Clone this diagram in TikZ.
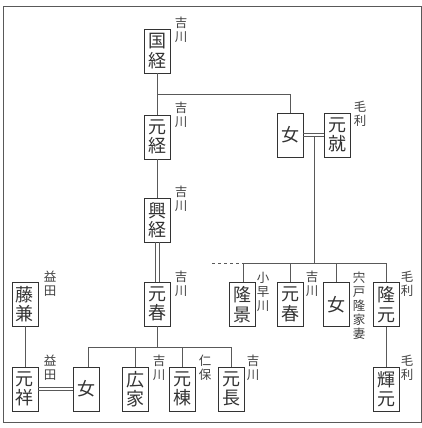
\documentclass[tikz,border=0pt]{standalone}
\usepackage{fontspec}
\setmainfont{Noto Sans CJK JP}
\begin{document}
\begin{tikzpicture}[x=1pt,y=-1pt,
  box/.style={draw=black!80,line width=0.8pt,minimum width=26pt,minimum height=44pt,inner sep=0pt,align=center,text=black!80,font=\fontsize{18}{19.5}\selectfont},
  lab/.style={inner sep=0pt,align=center,text=black!75,font=\fontsize{12.5}{14}\selectfont},
  ln/.style={draw=black!65,line width=0.9pt}]
\useasboundingbox (0,0) rectangle (422,428);
\draw[black!65,line width=1pt] (3.5,7) rectangle (421.5,422);
% Yoshikawa line
\node[box] (kunitsune) at (157.5,51) {国\\経};
\node[lab] at (181,30) {吉\\川};
\node[box] (mototsune) at (157.5,137) {元\\経};
\node[lab] at (181,115) {吉\\川};
\node[box] (okitsune) at (157.5,220) {興\\経};
\node[lab] at (181,199) {吉\\川};
\node[box] (motoharu) at (157.5,304) {元\\春};
\node[lab] at (181,284) {吉\\川};
% Mori
\node[box] (onna1) at (290,135) {女};
\node[box] (motonari) at (337.5,135) {元\\就};
\node[lab] at (360,114) {毛\\利};
% Mori children
\node[box] (takakage) at (242,304.5) {隆\\景};
\node[lab] at (263,292) {小\\早\\川};
\node[box] (motoharu2) at (290,304.5) {元\\春};
\node[lab] at (312,284) {吉\\川};
\node[box] (onna2) at (336.5,304.5) {女};
\node[lab] at (359,306) {宍\\戸\\隆\\家\\妻};
\node[box] (takamoto) at (386,304.5) {隆\\元};
\node[lab] at (407,284) {毛\\利};
\node[box] (terumoto) at (386,389) {輝\\元};
\node[lab] at (407,368) {毛\\利};
% Masuda
\node[box] (fujikane) at (25,304) {藤\\兼};
\node[lab] at (50,284) {益\\田};
\node[box] (motoyoshi) at (25,389) {元\\祥};
\node[lab] at (50,368) {益\\田};
% Motoharu children
\node[box] (onna3) at (86,389) {女};
\node[box] (hiroie) at (135,389) {広\\家};
\node[lab] at (159,368) {吉\\川};
\node[box] (motomune) at (182,389) {元\\棟};
\node[lab] at (205,368) {仁\\保};
\node[box] (motonaga) at (231,389) {元\\長};
\node[lab] at (253,368) {吉\\川};
% connectors
\draw[ln] (kunitsune) -- (mototsune);
\coordinate (b1) at (157.5,94);
\draw[ln] (b1) -| (onna1.north);
\draw[ln] (mototsune) -- (okitsune);
\draw[ln] ([xshift=-1.7pt]okitsune.south) -- ([xshift=-1.7pt]motoharu.north);
\draw[ln] ([xshift=1.7pt]okitsune.south) -- ([xshift=1.7pt]motoharu.north);
\draw[ln] ([yshift=1.7pt]onna1.east) -- ([yshift=1.7pt]motonari.west);
\draw[ln] ([yshift=-1.7pt]onna1.east) -- ([yshift=-1.7pt]motonari.west);
\coordinate (m1) at (314,136.7);
\coordinate (mh) at (314,263);
\draw[ln] (m1) -- (mh);
\draw[ln] (takakage.north -| 243,0) |- (takamoto.north |- mh) -- (takamoto.north);
\draw[ln] (motoharu2.north) -- (motoharu2.north |- mh);
\draw[ln] (onna2.north) -- (onna2.north |- mh);
\draw[ln,dashed] (212,263) -- (243,263);
\draw[ln] (takamoto) -- (terumoto);
\draw[ln] (fujikane) -- (motoyoshi);
\draw[ln] ([yshift=1.7pt]motoyoshi.east) -- ([yshift=1.7pt]onna3.west);
\draw[ln] ([yshift=-1.7pt]motoyoshi.east) -- ([yshift=-1.7pt]onna3.west);
\coordinate (yh) at (157.5,347);
\draw[ln] (motoharu.south) -- (yh);
\draw[ln] (onna3.north -| 88,0) |- (motonaga.north |- yh) -- (motonaga.north);
\draw[ln] (hiroie.north) -- (hiroie.north |- yh);
\draw[ln] (motomune.north) -- (motomune.north |- yh);
\end{tikzpicture}
\end{document}
